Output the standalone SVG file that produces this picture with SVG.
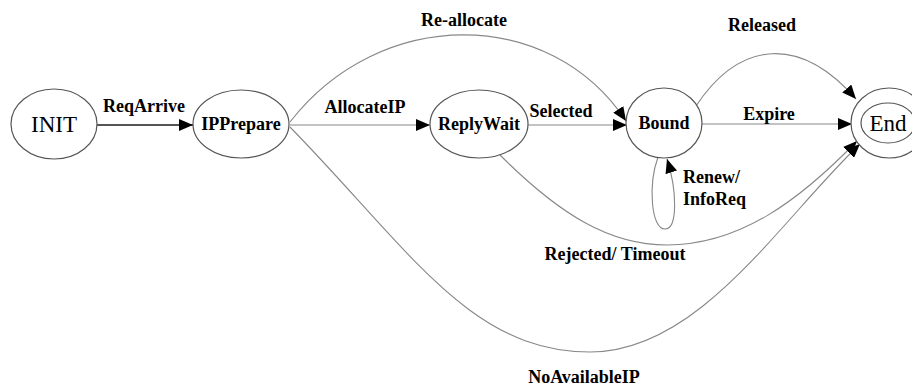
<svg xmlns="http://www.w3.org/2000/svg" width="912" height="386" viewBox="0 0 912 386">
<defs>
<style>
.node{fill:#fff;stroke:#555;stroke-width:1.2}
.edge{fill:none;stroke:#888;stroke-width:1.1}
.lbl{font-family:"Liberation Serif","Times New Roman",serif;font-weight:bold;font-size:18px;fill:#000}
.big{font-family:"Liberation Serif","Times New Roman",serif;font-size:23px;fill:#000}
</style>
<marker id="ah" markerUnits="userSpaceOnUse" markerWidth="14" markerHeight="12" refX="14" refY="6" orient="auto">
<path d="M0,0 L14,6 L0,12 z" fill="#000"/>
</marker>
</defs>
<rect width="912" height="386" fill="#fff"/>
<g id="connectors">
<path class="edge" d="M97,125 L193,125" style="stroke:#555;stroke-width:2.2" marker-end="url(#ah)"/>
<path class="edge" d="M290,125 L430,125" marker-end="url(#ah)"/>
<path class="edge" d="M528,125 L627,125" marker-end="url(#ah)"/>
<path class="edge" d="M702,124 L852,124" marker-end="url(#ah)"/>
<path class="edge" d="M290,122 C380,6 550,6 626,121" marker-end="url(#ah)"/>
<path class="edge" d="M696,106 C740,40 800,35 856,99" marker-end="url(#ah)"/>
<path class="edge" d="M500,155 C560,215 610,245 667,245 C740,245 800,200 857,141" marker-end="url(#ah)"/>
<path class="edge" d="M290,127 C410,250 470,352 590,352 C700,352 780,220 860,144" marker-end="url(#ah)"/>
<path class="edge" d="M658,157 C648,185 651,229 665,229 C678,229 677,190 667,159" marker-end="url(#ah)"/>
</g>
<g id="INIT"><ellipse class="node" cx="54" cy="124" rx="43" ry="35"/><text class="big" x="54" y="132" text-anchor="middle">INIT</text></g>
<g id="IPPrepare"><ellipse class="node" cx="241" cy="124" rx="48" ry="34"/><text class="lbl" x="241" y="130" text-anchor="middle">IPPrepare</text></g>
<g id="ReplyWait"><ellipse class="node" cx="479" cy="124" rx="49" ry="34"/><text class="lbl" x="479" y="130" text-anchor="middle">ReplyWait</text></g>
<g id="Bound"><ellipse class="node" cx="664" cy="123" rx="38" ry="35"/><text class="lbl" x="664" y="129" text-anchor="middle">Bound</text></g>
<g id="End"><ellipse class="node" cx="889" cy="123" rx="38" ry="35"/><ellipse class="node" cx="888" cy="123" rx="27" ry="20"/><text class="big" x="888" y="131" text-anchor="middle">End</text></g>
<g id="labels">
<text class="lbl" x="144" y="112" text-anchor="middle">ReqArrive</text>
<text class="lbl" x="365" y="113" text-anchor="middle">AllocateIP</text>
<text class="lbl" x="561" y="117" text-anchor="middle">Selected</text>
<text class="lbl" x="464" y="26" text-anchor="middle">Re-allocate</text>
<text class="lbl" x="762" y="31" text-anchor="middle">Released</text>
<text class="lbl" x="769" y="120" text-anchor="middle">Expire</text>
<text class="lbl" x="683" y="183">Renew/</text>
<text class="lbl" x="683" y="205">InfoReq</text>
<text class="lbl" x="615" y="260" text-anchor="middle">Rejected/ Timeout</text>
<text class="lbl" x="584" y="383" text-anchor="middle">NoAvailableIP</text>
</g>
</svg>
